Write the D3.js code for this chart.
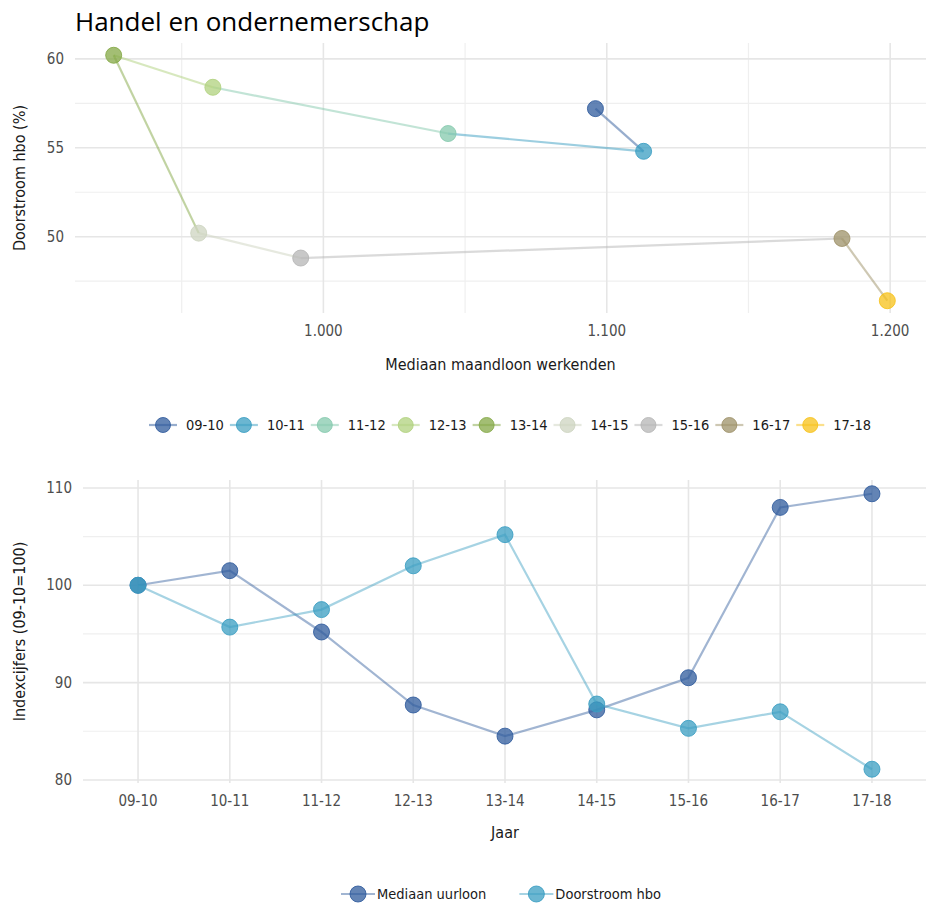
<!DOCTYPE html>
<html>
<head>
<meta charset="utf-8">
<script src="https://cdn.jsdelivr.net/npm/d3@7"></script>
<style>
  body { margin: 0; background: #fff; }
  svg { display: block; }
  .tick-lbl { font-family: "DejaVu Sans Condensed", "DejaVu Sans", sans-serif; font-size: 15px; fill: #4d4d4d; }
  .ax-title { font-family: "DejaVu Sans Condensed", "DejaVu Sans", sans-serif; font-size: 16px; fill: #1a1a1a; }
  .leg-lbl { font-family: "DejaVu Sans Condensed", "DejaVu Sans", sans-serif; font-size: 14.5px; fill: #1a1a1a; }
</style>
</head>
<body>
<div id="chart"></div>
<script>
// ---------------- DATA
var years = ["09-10", "10-11", "11-12", "12-13", "13-14", "14-15", "15-16", "16-17", "17-18"];
var yearColors = ["#2f5b9c", "#3a9dc2", "#86c9ae", "#b0d17e", "#84a845", "#cdd4c0", "#b5b5b5", "#9e9168", "#f7c21a"];

// top chart: median monthly wage (euro) vs hbo throughput (%)
var maandloon = [1096, 1113, 1044, 961, 926, 956, 992, 1183, 1199];
var doorstroom = [57.2, 54.8, 55.8, 58.4, 60.2, 50.2, 48.8, 49.9, 46.4];

// bottom chart: index figures (09-10 = 100)
var indexUurloon = [100, 101.5, 95.2, 87.7, 84.5, 87.2, 90.5, 108.0, 109.4];
var indexDoorstroom = [100, 95.7, 97.5, 102.0, 105.2, 87.8, 85.3, 87.0, 81.1];
var bottomSeries = ["Mediaan uurloon", "Doorstroom hbo"];
var bottomColors = ["#2f5b9c", "#3a9dc2"];

var xTicksTop = [1000, 1100, 1200];
var xMinorTop = [950, 1050, 1150];
var yTicksTop = [50, 55, 60];
var yMinorTop = [47.5, 52.5, 57.5];
var yTicksBot = [80, 90, 100, 110];
var yMinorBot = [85, 95, 105];

var W = 926, H = 907;
var svg = d3.select("#chart").append("svg").attr("width", W).attr("height", H);

var nl = d3.formatLocale({decimal: ",", thousands: ".", grouping: [3], currency: ["€", ""]});
var fmtThousands = nl.format(",.0f");

function padExtent(arr) {
  var e = d3.extent(arr), p = (e[1] - e[0]) * 0.05;
  return [e[0] - p, e[1] + p];
}

// ---------------- TITLE
svg.append("text")
  .attr("x", 75).attr("y", 31)
  .style("font-family", "'Open Sans', sans-serif")
  .style("font-size", "26px")
  .style("fill", "#000")
  .text("Handel en ondernemerschap");

// ---------------- TOP CHART
var topBox = {left: 75, right: 926, top: 43, bottom: 313};
var xTop = d3.scaleLinear().domain(padExtent(maandloon)).range([topBox.left, topBox.right]);
var yTop = d3.scaleLinear().domain(padExtent(doorstroom)).range([topBox.bottom, topBox.top]);

var gTop = svg.append("g");

gTop.selectAll("line.minx").data(xMinorTop).enter().append("line")
  .attr("x1", d => xTop(d)).attr("x2", d => xTop(d))
  .attr("y1", topBox.top).attr("y2", topBox.bottom)
  .attr("stroke", "#efefef").attr("stroke-width", 1.2);
gTop.selectAll("line.miny").data(yMinorTop).enter().append("line")
  .attr("y1", d => yTop(d)).attr("y2", d => yTop(d))
  .attr("x1", topBox.left).attr("x2", topBox.right)
  .attr("stroke", "#efefef").attr("stroke-width", 1.2);
gTop.selectAll("line.majx").data(xTicksTop).enter().append("line")
  .attr("x1", d => xTop(d)).attr("x2", d => xTop(d))
  .attr("y1", topBox.top).attr("y2", topBox.bottom)
  .attr("stroke", "#e6e6e6").attr("stroke-width", 1.6);
gTop.selectAll("line.majy").data(yTicksTop).enter().append("line")
  .attr("y1", d => yTop(d)).attr("y2", d => yTop(d))
  .attr("x1", topBox.left).attr("x2", topBox.right)
  .attr("stroke", "#e6e6e6").attr("stroke-width", 1.6);

// tick labels
gTop.selectAll("text.xt").data(xTicksTop).enter().append("text")
  .attr("class", "tick-lbl")
  .attr("x", d => xTop(d)).attr("y", topBox.bottom + 23)
  .attr("text-anchor", "middle")
  .text(d => fmtThousands(d));
gTop.selectAll("text.yt").data(yTicksTop).enter().append("text")
  .attr("class", "tick-lbl")
  .attr("x", topBox.left - 11).attr("y", d => yTop(d) + 5)
  .attr("text-anchor", "end")
  .text(d => d);

svg.append("text").attr("class", "ax-title")
  .attr("x", (topBox.left + topBox.right) / 2).attr("y", 370)
  .attr("text-anchor", "middle")
  .text("Mediaan maandloon werkenden");
svg.append("text").attr("class", "ax-title")
  .attr("transform", "translate(25," + ((topBox.top + topBox.bottom) / 2) + ") rotate(-90)")
  .attr("text-anchor", "middle")
  .text("Doorstroom hbo (%)");

// path segments, coloured by start year
var topPts = years.map(function(y, i) { return {year: y, x: maandloon[i], y: doorstroom[i], c: yearColors[i]}; });
gTop.selectAll("line.seg").data(topPts.slice(0, -1)).enter().append("line")
  .attr("x1", d => xTop(d.x)).attr("y1", d => yTop(d.y))
  .attr("x2", (d, i) => xTop(topPts[i + 1].x)).attr("y2", (d, i) => yTop(topPts[i + 1].y))
  .attr("stroke", d => d.c).attr("stroke-opacity", 0.5).attr("stroke-width", 2.2);

gTop.selectAll("circle").data(topPts).enter().append("circle")
  .attr("cx", d => xTop(d.x)).attr("cy", d => yTop(d.y)).attr("r", 8)
  .attr("fill", d => d.c).attr("fill-opacity", 0.75)
  .attr("stroke", d => d.c).attr("stroke-opacity", 0.85).attr("stroke-width", 1);

// legend (years)
var legTop = svg.append("g").attr("transform", "translate(149,425)");
var lx = 0;
years.forEach(function(y, i) {
  var item = legTop.append("g").attr("transform", "translate(" + lx + ",0)");
  item.append("line").attr("x1", 0).attr("x2", 28).attr("y1", 0).attr("y2", 0)
    .attr("stroke", yearColors[i]).attr("stroke-opacity", 0.5).attr("stroke-width", 2.2);
  item.append("circle").attr("cx", 14).attr("cy", 0).attr("r", 7.5)
    .attr("fill", yearColors[i]).attr("fill-opacity", 0.75)
    .attr("stroke", yearColors[i]).attr("stroke-opacity", 0.85);
  var t = item.append("text").attr("class", "leg-lbl").attr("x", 37).attr("y", 5).text(y);
  lx += 37 + t.node().getComputedTextLength() + 6;
});

// ---------------- BOTTOM CHART
var bot = {left: 83, right: 927, top: 480, bottom: 783};
var xBot = d3.scalePoint().domain(years).range([bot.left, bot.right]).padding(0.6);
var yBot = d3.scaleLinear().domain(padExtent(indexUurloon.concat(indexDoorstroom))).range([bot.bottom, bot.top]);

var gBot = svg.append("g");
gBot.selectAll("line.miny").data(yMinorBot).enter().append("line")
  .attr("y1", d => yBot(d)).attr("y2", d => yBot(d))
  .attr("x1", bot.left).attr("x2", bot.right)
  .attr("stroke", "#efefef").attr("stroke-width", 1.2);
gBot.selectAll("line.majx").data(years).enter().append("line")
  .attr("x1", d => xBot(d)).attr("x2", d => xBot(d))
  .attr("y1", bot.top).attr("y2", bot.bottom)
  .attr("stroke", "#e6e6e6").attr("stroke-width", 1.6);
gBot.selectAll("line.majy").data(yTicksBot).enter().append("line")
  .attr("y1", d => yBot(d)).attr("y2", d => yBot(d))
  .attr("x1", bot.left).attr("x2", bot.right)
  .attr("stroke", "#e6e6e6").attr("stroke-width", 1.6);

gBot.selectAll("text.xt").data(years).enter().append("text")
  .attr("class", "tick-lbl")
  .attr("x", d => xBot(d)).attr("y", bot.bottom + 23)
  .attr("text-anchor", "middle")
  .text(d => d);
gBot.selectAll("text.yt").data(yTicksBot).enter().append("text")
  .attr("class", "tick-lbl")
  .attr("x", bot.left - 11).attr("y", d => yBot(d) + 5)
  .attr("text-anchor", "end")
  .text(d => d);

svg.append("text").attr("class", "ax-title")
  .attr("x", (bot.left + bot.right) / 2).attr("y", 838)
  .attr("text-anchor", "middle")
  .text("Jaar");
svg.append("text").attr("class", "ax-title")
  .attr("transform", "translate(25," + ((bot.top + bot.bottom) / 2) + ") rotate(-90)")
  .attr("text-anchor", "middle")
  .text("Indexcijfers (09-10=100)");

var lineBot = d3.line().x(d => xBot(d.year)).y(d => yBot(d.v));
[indexUurloon, indexDoorstroom].forEach(function(vals, s) {
  var pts = years.map(function(y, i) { return {year: y, v: vals[i]}; });
  gBot.append("path")
    .attr("fill", "none")
    .attr("stroke", bottomColors[s]).attr("stroke-opacity", 0.45).attr("stroke-width", 2.2)
    .attr("d", lineBot(pts));
  gBot.selectAll("circle.s" + s).data(pts).enter().append("circle")
    .attr("cx", d => xBot(d.year)).attr("cy", d => yBot(d.v)).attr("r", 8)
    .attr("fill", bottomColors[s]).attr("fill-opacity", 0.75)
    .attr("stroke", bottomColors[s]).attr("stroke-opacity", 0.85).attr("stroke-width", 1);
});

// legend (series)
var legBot = svg.append("g").attr("transform", "translate(341,894)");
var bx = 0;
bottomSeries.forEach(function(name, i) {
  var item = legBot.append("g").attr("transform", "translate(" + bx + ",0)");
  item.append("line").attr("x1", 0).attr("x2", 34).attr("y1", 0).attr("y2", 0)
    .attr("stroke", bottomColors[i]).attr("stroke-opacity", 0.45).attr("stroke-width", 2.2);
  item.append("circle").attr("cx", 17).attr("cy", 0).attr("r", 8)
    .attr("fill", bottomColors[i]).attr("fill-opacity", 0.75)
    .attr("stroke", bottomColors[i]).attr("stroke-opacity", 0.85);
  var t = item.append("text").attr("class", "leg-lbl").attr("x", 36).attr("y", 5).text(name);
  bx += 36 + t.node().getComputedTextLength() + 33;
});
</script>
</body>
</html>
